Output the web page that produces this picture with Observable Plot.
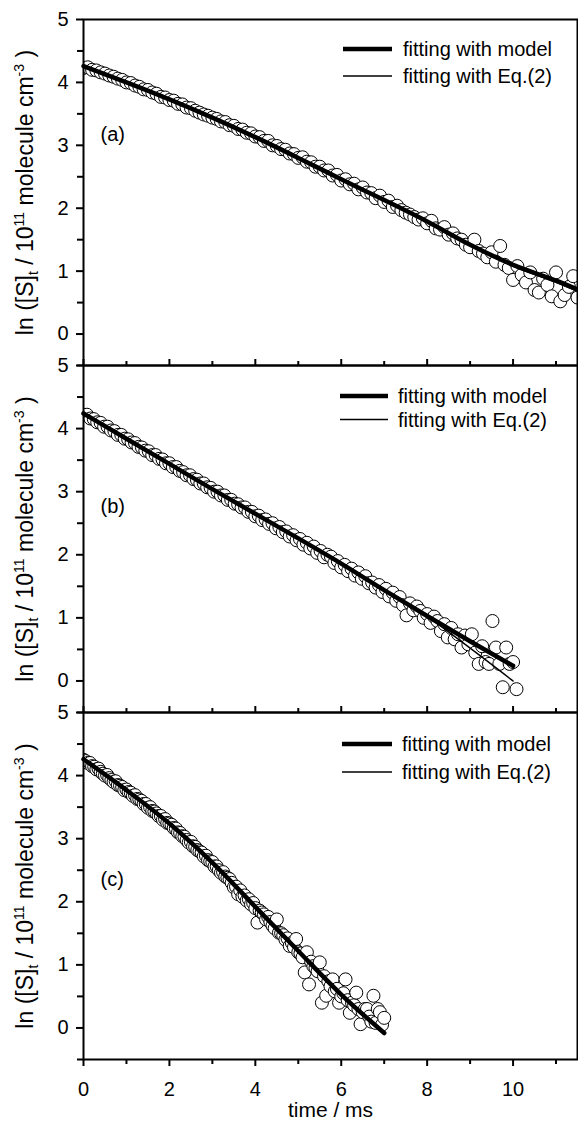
<!DOCTYPE html>
<html><head><meta charset="utf-8">
<script src="https://cdn.jsdelivr.net/npm/d3@7"></script>
<script src="https://cdn.jsdelivr.net/npm/@observablehq/plot@0.6"></script>
<style>
html,body{margin:0;padding:0;background:#fff;overflow:hidden}
#wrap{position:relative;width:578px;height:1123px;font-family:'Liberation Sans',Arial,sans-serif}
#wrap > div{position:absolute;left:0}
</style></head><body><div id="wrap"></div>
<script>
// ---- panel (a) measured points ----
const tA = [0,0.1,0.2,0.3,0.4,0.5,0.6,0.7,0.8,0.9,
1,1.1,1.2,1.3,1.4,1.5,1.6,1.7,1.8,1.9,
2,2.1,2.2,2.3,2.4,2.5,2.6,2.7,2.8,2.9,
3,3.1,3.2,3.3,3.4,3.5,3.6,3.7,3.8,3.9,
4,4.1,4.2,4.3,4.4,4.5,4.6,4.7,4.8,4.9,
5,5.1,5.2,5.3,5.4,5.5,5.6,5.7,5.8,5.9,
6,6.1,6.2,6.3,6.4,6.5,6.6,6.7,6.8,6.9,
7,7.1,7.2,7.3,7.4,7.5,7.6,7.7,7.8,7.9,
8,8.1,8.2,8.3,8.4,8.5,8.6,8.7,8.8,8.9,
9,9.1,9.2,9.3,9.4,9.5,9.6,9.7,9.8,9.9,
10,10.1,10.2,10.3,10.4,10.5,10.6,10.7,10.8,10.9,
11,11.1,11.2,11.3,11.4,11.5];
const yA = [4.23,4.24,4.20,4.19,4.16,4.14,4.11,4.09,4.06,4.04,
4.00,3.99,3.95,3.93,3.89,3.88,3.84,3.82,3.77,3.76,
3.72,3.71,3.66,3.65,3.60,3.59,3.55,3.52,3.49,3.47,
3.44,3.42,3.38,3.37,3.32,3.31,3.26,3.25,3.20,3.19,
3.14,3.13,3.07,3.07,3.00,2.99,2.94,2.93,2.87,2.86,
2.80,2.81,2.74,2.73,2.66,2.66,2.60,2.60,2.52,2.53,
2.44,2.46,2.38,2.39,2.30,2.33,2.25,2.24,2.16,2.20,
2.10,2.12,2.02,2.04,1.97,1.93,1.90,1.86,1.82,1.84,
1.76,1.80,1.68,1.66,1.70,1.58,1.60,1.52,1.50,1.42,
1.38,1.50,1.32,1.28,1.22,1.30,1.15,1.40,1.10,1.05,
0.86,1.08,0.94,0.82,0.98,0.70,0.66,0.88,0.78,0.60,
0.98,0.52,0.62,0.75,0.92,0.58];
// ---- panel (b) measured points ----
const tB = [0,0.08,0.16,0.24,0.32,0.4,0.48,0.56,0.64,0.72,
0.8,0.88,0.96,1.04,1.12,1.2,1.28,1.36,1.44,1.52,
1.6,1.68,1.76,1.84,1.92,2,2.08,2.16,2.24,2.32,
2.4,2.48,2.56,2.64,2.72,2.8,2.88,2.96,3.04,3.12,
3.2,3.28,3.36,3.44,3.52,3.6,3.68,3.76,3.84,3.92,
4,4.08,4.16,4.24,4.32,4.4,4.48,4.56,4.64,4.72,
4.8,4.88,4.96,5.04,5.12,5.2,5.28,5.36,5.44,5.52,
5.6,5.68,5.76,5.84,5.92,6,6.08,6.16,6.24,6.32,
6.4,6.48,6.56,6.64,6.72,6.8,6.88,6.96,7.04,7.12,
7.2,7.28,7.36,7.44,7.52,7.6,7.68,7.76,7.84,7.92,
8,8.08,8.16,8.24,8.32,8.4,8.48,8.56,8.64,8.72,
8.8,8.88,8.96,9.04,9.12,9.2,9.28,9.36,9.44,9.52,
9.6,9.68,9.76,9.84,9.92,10,10.08];
const yB = [4.22,4.22,4.16,4.15,4.10,4.09,4.03,4.03,3.97,3.96,
3.90,3.90,3.84,3.83,3.78,3.77,3.71,3.70,3.65,3.64,
3.58,3.58,3.52,3.51,3.45,3.45,3.39,3.39,3.33,3.31,
3.26,3.26,3.20,3.19,3.13,3.13,3.07,3.06,3.00,3.00,
2.94,2.94,2.87,2.87,2.81,2.80,2.75,2.75,2.68,2.68,
2.61,2.62,2.55,2.56,2.49,2.50,2.42,2.44,2.36,2.37,
2.29,2.31,2.23,2.25,2.16,2.19,2.10,2.13,2.03,2.06,
1.96,2.00,1.97,1.87,1.90,1.80,1.84,1.74,1.78,1.67,
1.72,1.62,1.66,1.55,1.56,1.48,1.52,1.41,1.46,1.34,
1.40,1.27,1.33,1.20,1.04,1.23,1.12,1.18,1.11,1.00,
1.06,0.92,1.02,0.95,0.79,0.90,0.69,0.84,0.66,0.74,
0.53,0.72,0.58,0.74,0.45,0.27,0.55,0.30,0.27,0.95,
0.53,0.27,-0.10,0.53,0.27,0.30,-0.13];
// ---- panel (c) measured points ----
const tC = [0,0.05,0.1,0.15,0.2,0.25,0.3,0.35,0.4,0.45,
0.5,0.55,0.6,0.65,0.7,0.75,0.8,0.85,0.9,0.95,
1,1.05,1.1,1.15,1.2,1.25,1.3,1.35,1.4,1.45,
1.5,1.55,1.6,1.65,1.7,1.75,1.8,1.85,1.9,1.95,
2,2.05,2.1,2.15,2.2,2.25,2.3,2.35,2.4,2.45,
2.5,2.55,2.6,2.65,2.7,2.75,2.8,2.85,2.9,2.95,
3,3.05,3.1,3.15,3.2,3.25,3.3,3.35,3.4,3.45,
3.5,3.55,3.6,3.65,3.7,3.75,3.8,3.85,3.9,3.95,
4,4.05,4.1,4.15,4.2,4.25,4.3,4.35,4.4,4.45,
4.5,4.55,4.6,4.65,4.7,4.75,4.8,4.85,4.9,4.95,
5,5.05,5.1,5.15,5.2,5.25,5.3,5.35,5.4,5.45,
5.5,5.55,5.6,5.65,5.7,5.75,5.8,5.85,5.9,5.95,
6,6.05,6.1,6.15,6.2,6.25,6.3,6.35,6.4,6.45,
6.5,6.55,6.6,6.65,6.7,6.75,6.8,6.85,6.9,6.95,7];
const yC = [4.25,4.23,4.20,4.20,4.15,4.14,4.10,4.11,4.06,4.03,
4.00,4.01,3.96,3.93,3.90,3.91,3.85,3.84,3.82,3.77,
3.78,3.74,3.73,3.68,3.69,3.63,3.62,3.60,3.55,3.55,
3.49,3.50,3.44,3.43,3.40,3.36,3.36,3.30,3.31,3.25,
3.24,3.22,3.17,3.16,3.10,3.09,3.04,3.03,2.98,2.94,
2.95,2.88,2.87,2.82,2.80,2.78,2.72,2.73,2.66,2.64,
2.63,2.56,2.56,2.50,2.46,2.47,2.40,2.38,2.36,2.30,
2.23,2.24,2.12,2.18,2.08,2.10,2.02,2.04,1.96,1.98,
1.90,1.67,1.86,1.83,1.80,1.72,1.76,1.68,1.62,1.58,
1.72,1.51,1.50,1.47,1.40,1.42,1.30,1.35,1.28,1.41,
1.20,1.18,1.12,0.88,1.20,0.69,1.05,0.98,0.95,0.90,
1.04,0.40,0.82,0.51,0.74,0.66,0.77,0.58,0.62,0.40,
0.50,0.55,0.77,0.44,0.24,0.40,0.36,0.56,0.30,0.06,
0.25,0.30,0.30,0.18,0.10,0.51,0.08,0.30,0.25,0.05,0.16];
// ---- fitted curves ----
const fitTA = [0,1,2,3,4,5,6,7,8,9,10,11,11.5];
const modelA = [4.26,4.00,3.73,3.44,3.13,2.80,2.46,2.13,1.79,1.42,1.10,0.85,0.71];
const eq2A   = [4.25,3.99,3.72,3.43,3.12,2.79,2.45,2.12,1.78,1.41,1.08,0.82,0.68];
const fitTB = [0,1,2,3,4,5,6,7,8,9,10];
const modelB = [4.24,3.84,3.44,3.04,2.65,2.26,1.86,1.44,1.03,0.63,0.24];
const eq2B   = [4.23,3.83,3.43,3.04,2.65,2.25,1.85,1.43,1.02,0.52,0.00];
const fitTC = [0,1,2,3,4,5,6,7];
const modelC = [4.26,3.77,3.24,2.62,1.92,1.22,0.53,-0.08];
const eq2C   = [4.24,3.76,3.23,2.62,1.93,1.23,0.53,-0.10];
// ---- ticks & texts ----
const xMajor = [0,2,4,6,8,10], xMinor = [1,3,5,7,9,11];
const yMajor = [0,1,2,3,4,5], yMinor = [-0.5,0.5,1.5,2.5,3.5,4.5];
const legendLabels = ["fitting with model", "fitting with Eq.(2)"];
const panelLabels = ["(a)", "(b)", "(c)"];
const yTitle = "ln ([S]t / 10^11 molecule cm^-3 )";
const xTitle = "time / ms";

const FONT = "'Liberation Sans', Arial, sans-serif";
const rows = (t, y) => t.map((v, i) => ({t: v, y: y[i]}));
const intFmt = d => String(d);

const panels = [
  {t: tA, y: yA, ft: fitTA, m: modelA, e: eq2A, top: 19, inner: 346, mt: 19, mb: 10, topTicks: false, bottom: false, labelDy: 115,
   leg: {x1: 343, x2: 392, xt: 403, ys: [49, 76]}},
  {t: tB, y: yB, ft: fitTB, m: modelB, e: eq2B, top: 365, inner: 347, mt: 10, mb: 10, topTicks: true, bottom: false, labelDy: 141,
   leg: {x1: 340, x2: 388, xt: 398, ys: [396, 419.5]}},
  {t: tC, y: yC, ft: fitTC, m: modelC, e: eq2C, top: 712, inner: 347, mt: 10, mb: 64, topTicks: true, bottom: true, labelDy: 167,
   leg: {x1: 342, x2: 392, xt: 402, ys: [744, 772]}}
];

const wrap = document.getElementById("wrap");

panels.forEach((p, i) => {
  const marks = [
    Plot.dot(rows(p.t, p.y), {x: "t", y: "y", r: 6.5, fill: "white", stroke: "black", strokeWidth: 1, clip: true}),
    Plot.line(rows(p.ft, p.e), {x: "t", y: "y", stroke: "black", strokeWidth: 1.4, curve: "monotone-x"}),
    Plot.line(rows(p.ft, p.m), {x: "t", y: "y", stroke: "black", strokeWidth: 4.5, curve: "monotone-x"}),
    Plot.frame({stroke: "black", strokeWidth: 2}),
    Plot.axisY({ticks: yMajor, tickSize: 7, tickPadding: 8, fontSize: 20, strokeWidth: 2, tickFormat: intFmt, label: null}),
    Plot.axisY({ticks: yMinor, tickSize: 6, strokeWidth: 2, tickFormat: () => "", label: null}),
    Plot.text([panelLabels[i]], {frameAnchor: "top-left", dx: 17, dy: p.labelDy, textAnchor: "start", lineAnchor: "middle", fontSize: 20}),
    Plot.text([yTitle], {frameAnchor: "left", dx: -58, rotate: -90, fontSize: 23, textAnchor: "middle", lineAnchor: "middle"})
  ];
  if (p.topTicks) {
    marks.push(Plot.axisX({anchor: "top", ticks: xMajor, tickSize: 7, strokeWidth: 2, tickFormat: () => "", label: null}));
    marks.push(Plot.axisX({anchor: "top", ticks: xMinor, tickSize: 5, strokeWidth: 2, tickFormat: () => "", label: null}));
  }
  if (p.bottom) {
    marks.push(Plot.axisX({anchor: "bottom", ticks: xMajor, tickSize: 7, tickPadding: 15, fontSize: 20, strokeWidth: 2, tickFormat: intFmt, label: null}));
    marks.push(Plot.axisX({anchor: "bottom", ticks: xMinor, tickSize: 5, strokeWidth: 2, tickFormat: () => "", label: null}));
    marks.push(Plot.text([xTitle], {frameAnchor: "bottom", dy: 51, fontSize: 21, textAnchor: "middle", lineAnchor: "middle"}));
  }
  const svg = Plot.plot({
    width: 578,
    height: p.mt + p.inner + p.mb,
    marginLeft: 83, marginRight: 1, marginTop: p.mt, marginBottom: p.mb,
    x: {domain: [0, 11.5], ...(p.topTicks || p.bottom ? {} : {axis: null})},
    y: {domain: [-0.5, 5]},
    style: {background: "transparent", overflow: "visible", color: "black", fontFamily: FONT},
    marks
  });
  // sub/superscripts in the y title
  d3.select(svg).selectAll("text").filter(function () { return this.textContent === yTitle; }).each(function () {
    const t = d3.select(this);
    t.text(null);
    const parts = [["ln ([S]", 0], ["t", 5], [" / 10", 0], ["11", -9], [" molecule cm", 0], ["-3", -9], [" )", 0]];
    let shift = 0;
    for (const [s, k] of parts) {
      const ts = t.append("tspan").attr("dy", k - shift).text(s);
      if (k !== 0) ts.attr("font-size", 14);
      shift = k;
    }
  });
  const div = document.createElement("div");
  div.style.top = (p.top - p.mt) + "px";
  div.appendChild(svg);
  wrap.appendChild(div);
});

// legends inside each panel
const ov = d3.select(wrap).append("svg")
  .attr("width", 578).attr("height", 1123)
  .style("position", "absolute").style("left", 0).style("top", 0)
  .style("font-family", FONT);
panels.forEach(p => {
  legendLabels.forEach((lab, k) => {
    const y = p.leg.ys[k];
    ov.append("line").attr("x1", p.leg.x1).attr("x2", p.leg.x2).attr("y1", y).attr("y2", y)
      .attr("stroke", "black").attr("stroke-width", k === 0 ? 4.5 : 1.5);
    ov.append("text").attr("x", p.leg.xt).attr("y", y + 7).attr("font-size", 20).attr("fill", "black").text(lab);
  });
});
</script>
</body></html>
